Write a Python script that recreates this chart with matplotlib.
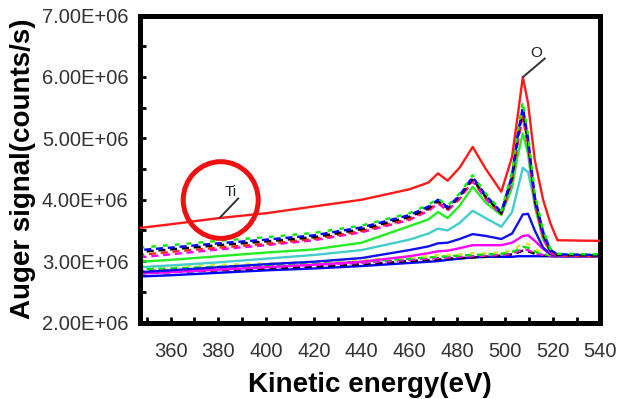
import matplotlib
matplotlib.use("Agg")
import matplotlib.pyplot as plt
import numpy as np
from matplotlib.ticker import MultipleLocator, FuncFormatter
from matplotlib.patches import Ellipse

# ---------------- data (signal in units of 1e6 counts/s) ----------------
energy = [347, 360, 380, 400, 420, 440, 460, 468, 472, 476, 481, 486.5, 492,
          498.5, 503, 505.5, 507.5, 509.7, 512.5, 516, 519, 522, 540]

red_top = [3.54, 3.60, 3.70, 3.78, 3.89, 4.00, 4.17, 4.28, 4.43, 4.31, 4.52, 4.86, 4.50,
           4.13, 4.70, 5.41, 6.00, 5.57, 4.65, 4.00, 3.62, 3.34, 3.33]

upper_green = [3.22, 3.26, 3.33, 3.39, 3.46, 3.58, 3.78, 3.92, 4.02, 3.90, 4.10, 4.40, 4.10,
               3.82, 4.45, 5.15, 5.60, 5.05, 4.10, 3.50, 3.20, 3.12, 3.11]
upper_blue = [3.18, 3.22, 3.29, 3.35, 3.42, 3.55, 3.75, 3.89, 4.00, 3.88, 4.07, 4.37, 4.07,
              3.80, 4.40, 5.10, 5.50, 5.00, 4.05, 3.46, 3.18, 3.11, 3.10]
upper_black = [3.15, 3.19, 3.26, 3.32, 3.39, 3.52, 3.72, 3.86, 3.98, 3.86, 4.05, 4.34, 4.05,
               3.78, 4.36, 5.05, 5.45, 4.95, 4.00, 3.43, 3.17, 3.10, 3.09]
upper_red = [3.10, 3.15, 3.22, 3.28, 3.36, 3.49, 3.69, 3.84, 3.96, 3.84, 4.03, 4.32, 4.03,
             3.77, 4.33, 5.00, 5.40, 4.90, 3.97, 3.40, 3.15, 3.09, 3.08]
upper_magenta = [3.06, 3.11, 3.19, 3.26, 3.34, 3.47, 3.67, 3.82, 3.94, 3.82, 4.01, 4.30, 4.01,
                 3.76, 4.30, 4.95, 5.35, 4.85, 3.94, 3.38, 3.14, 3.09, 3.08]

green = [2.99, 3.02, 3.08, 3.14, 3.19, 3.30, 3.57, 3.68, 3.80, 3.70, 3.90, 4.21, 3.95,
         3.75, 4.20, 4.75, 5.08, 4.75, 3.90, 3.35, 3.16, 3.10, 3.10]
cyan = [2.90, 2.93, 2.98, 3.04, 3.10, 3.18, 3.35, 3.45, 3.53, 3.50, 3.62, 3.82, 3.70,
        3.56, 3.80, 4.20, 4.52, 4.45, 3.95, 3.50, 3.20, 3.10, 3.09]
blue = [2.82, 2.85, 2.90, 2.95, 2.99, 3.05, 3.18, 3.24, 3.29, 3.30, 3.36, 3.44, 3.41,
        3.36, 3.45, 3.62, 3.76, 3.77, 3.50, 3.22, 3.12, 3.08, 3.08]
magenta = [2.80, 2.82, 2.86, 2.90, 2.94, 2.99, 3.08, 3.13, 3.16, 3.17, 3.21, 3.26, 3.26,
           3.26, 3.30, 3.36, 3.41, 3.42, 3.33, 3.20, 3.11, 3.08, 3.08]

lower_yellow = [2.91, 2.92, 2.94, 2.96, 2.99, 3.02, 3.06, 3.08, 3.10, 3.10, 3.11, 3.13, 3.13,
                3.14, 3.18, 3.24, 3.30, 3.28, 3.20, 3.13, 3.11, 3.11, 3.11]
lower_green = [2.87, 2.88, 2.91, 2.93, 2.96, 2.99, 3.04, 3.06, 3.07, 3.08, 3.09, 3.10, 3.11,
               3.12, 3.15, 3.19, 3.23, 3.22, 3.16, 3.11, 3.10, 3.10, 3.10]
lower_magenta = [2.84, 2.85, 2.88, 2.91, 2.94, 2.97, 3.02, 3.04, 3.05, 3.06, 3.07, 3.08, 3.09,
                 3.10, 3.12, 3.16, 3.19, 3.18, 3.13, 3.10, 3.09, 3.09, 3.09]
lower_black = [2.80, 2.82, 2.85, 2.88, 2.91, 2.95, 3.00, 3.02, 3.03, 3.04, 3.05, 3.06, 3.07,
               3.09, 3.11, 3.14, 3.17, 3.16, 3.12, 3.09, 3.08, 3.08, 3.08]
lower_blue = [2.75, 2.77, 2.81, 2.85, 2.88, 2.92, 2.97, 2.99, 3.00, 3.02, 3.04, 3.06, 3.07,
              3.07, 3.07, 3.08, 3.08, 3.08, 3.08, 3.08, 3.08, 3.08, 3.08]

x_label = "Kinetic energy(eV)"
y_label = "Auger signal(counts/s)"

# ---------------- figure ----------------
plt.rcParams['font.family'] = ['Liberation Sans', 'DejaVu Sans']
fig = plt.figure(figsize=(6.19, 3.99), dpi=100)
ax = fig.add_axes([0.2254, 0.1917, 0.970 - 0.2254, 0.961 - 0.1917])

E = np.array(energy)
S = 1e6

def draw(vals, color, ls='-', lw=1.7, z=2):
    ax.plot(E, np.array(vals) * S, color=color, ls=ls, lw=lw, zorder=z)

# lower cluster
draw(lower_blue, '#0000ff')
draw(lower_black, '#000000', ls=(0, (3, 2)))
draw(lower_magenta, '#ff00ff', ls=(1, (3, 2)))
draw(lower_green, '#00dd00', ls=(2, (3, 2)))
draw(lower_yellow, '#ccee22', ls=(0, (2, 3)))
# single curves
draw(magenta, '#ff00ff')
draw(blue, '#1111ee')
draw(cyan, '#44cccc')
draw(green, '#22ee22')
# upper cluster
draw(upper_magenta, '#ff00ff', ls=(0, (3, 2)))
draw(upper_red, '#ff2222', ls=(1, (3, 2)))
draw(upper_black, '#000000', ls=(2, (3, 2)))
draw(upper_blue, '#0000ff', ls=(3, (3, 2)))
draw(upper_green, '#00ee00', ls=(0, (2, 3)))
# top red curve
draw(red_top, '#ff1a1a', lw=1.7, z=3)

# annotations
ax.plot([380.7, 388.3], [3.71e6, 4.02e6], color='#333333', lw=1.4, zorder=4)
ax.text(385.3, 4.13e6, "Ti", fontsize=11, color='#222222', ha='center', va='center', zorder=4)
ax.plot([507.6, 516.7], [6.0e6, 6.30e6], color='#333333', lw=1.4, zorder=4)
ax.text(513.3, 6.39e6, "O", fontsize=11, color='#222222', ha='center', va='center', zorder=4)
ax.add_patch(Ellipse((381.0, 3.995e6), width=31.4, height=1.25e6, fill=False,
                     ec='#ee1111', lw=3.6, zorder=5))

# axes styling
ax.set_xlim(347, 540)
ax.set_ylim(2e6, 7e6)
for sp in ax.spines.values():
    sp.set_linewidth(3.6)
    sp.set_color('black')
ax.xaxis.set_major_locator(MultipleLocator(20))
ax.xaxis.set_minor_locator(MultipleLocator(10))
ax.yaxis.set_major_locator(MultipleLocator(1e6))
ax.yaxis.set_minor_locator(MultipleLocator(5e5))
ax.yaxis.set_major_formatter(FuncFormatter(lambda v, p: f"{v:.2E}"))
ax.tick_params(which='both', direction='in', length=4.5, width=2, color='black',
               top=False, right=False)
ax.tick_params(axis='x', which='major', labelsize=14.5, labelcolor='#333333', pad=14)
ax.tick_params(axis='y', which='major', labelsize=14.5, labelcolor='#333333', pad=8)

ax.set_xlabel(x_label, fontsize=20, fontweight='bold', color='black', labelpad=8)
ax.set_ylabel(y_label, fontsize=20, fontweight='bold', color='black', labelpad=4)

fig.savefig("out.png", dpi=100)
